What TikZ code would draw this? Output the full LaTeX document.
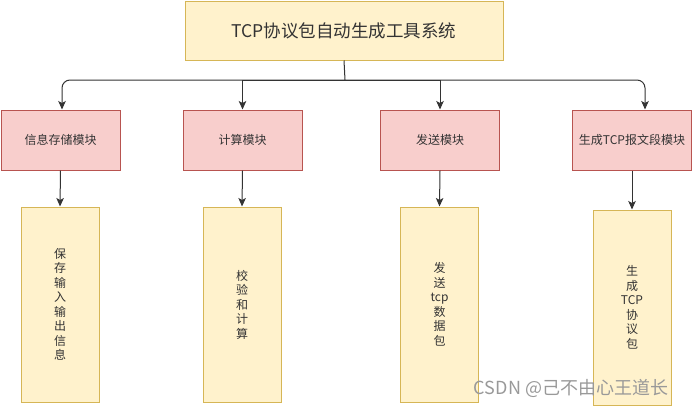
\documentclass[tikz,border=0pt]{standalone}
\usepackage{fontspec}
\newfontfamily\cjk{Noto Sans CJK SC}
\usetikzlibrary{arrows.meta}
\definecolor{ylfill}{HTML}{FFF2CC}
\definecolor{yldraw}{HTML}{D6B656}
\definecolor{rdfill}{HTML}{F8CECC}
\definecolor{rddraw}{HTML}{B85450}
\definecolor{txt}{HTML}{333333}

\tikzset{
	topbox/.style={draw=yldraw, fill=ylfill, line width=1pt, minimum width=318pt, minimum height=59pt, inner sep=0pt, text=txt, font=\cjk\fontsize{17.5}{19}\selectfont},
	modbox/.style={draw=rddraw, fill=rdfill, line width=1pt, minimum width=119pt, minimum height=60pt, inner sep=0pt, text=txt, font=\cjk\fontsize{12}{14}\selectfont},
	tallbox/.style={draw=yldraw, fill=ylfill, line width=1pt, minimum width=78pt, minimum height=195pt, inner sep=0pt, align=center, text=txt, font=\cjk\fontsize{12}{14.5}\selectfont},
	wmark/.style={text=black!40, font=\cjk\fontsize{18}{20}\selectfont},
	arr/.style={-{Stealth[length=8.5pt, width=7.5pt, inset=2pt]}, draw=black!80, line width=1pt},
	stem/.style={draw=black!80, line width=1pt}
}

\begin{document}
\begin{tikzpicture}[x=1pt, y=-1pt]
\useasboundingbox (0, 0) rectangle (692, 407);

\node[topbox] (sys) at (344, 30.5) {TCP协议包自动生成工具系统};
\coordinate (hub) at (345, 80);

\node[modbox] (m1) at (60.5, 140) {信息存储模块};
\node[modbox] (m2) at (242.5, 140) {计算模块};
\node[modbox] (m3) at (440, 140) {发送模块};
\node[modbox] (m4) at (632, 140) {生成TCP报文段模块};

\node[tallbox] (b1) at (60, 304.5) {保\\存\\输\\入\\输\\出\\信\\息};
\node[tallbox] (b2) at (242, 304.5) {校\\验\\和\\计\\算};
\node[tallbox] (b3) at (439.5, 304.5) {发\\送\\tcp\\数\\据\\包};
\node[tallbox] (b4) at (632, 307.5) {生\\成\\TCP\\协\\议\\包};

\draw[stem] (sys.south) -- (hub);
\draw[arr, rounded corners=8pt] (hub) -| ([xshift=1.5pt]m1.north);
\draw[arr] (hub) -| (m2.north);
\draw[arr] (hub) -| (m3.north);
\draw[arr, rounded corners=8pt] (hub) -| ([xshift=13pt]m4.north);

\foreach \i in {1, 2, 3, 4} {
	\draw[arr] (m\i.south) -- (b\i.north);
}

\node[wmark] (csdn) at (571, 388) {CSDN @己不由心王道长};
\end{tikzpicture}
\end{document}
